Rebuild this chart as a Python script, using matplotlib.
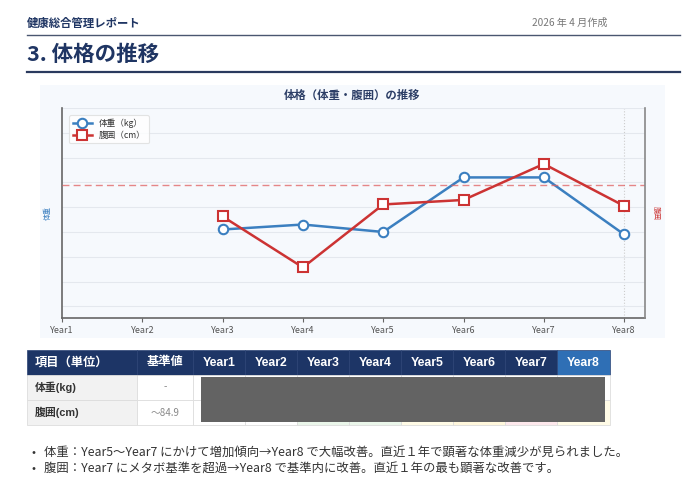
import numpy as np
import matplotlib
matplotlib.use("Agg")
import matplotlib.pyplot as plt
from matplotlib.patches import Rectangle
from matplotlib.lines import Line2D

plt.rcParams['font.family'] = ['Noto Sans CJK JP', 'DejaVu Sans']

# ---------------- data ----------------
years = ["Year1", "Year2", "Year3", "Year4", "Year5", "Year6", "Year7", "Year8"]
weight = [np.nan, np.nan, 66.1, 66.3, 66.0, 68.2, 68.2, 65.9]
waist = [np.nan, np.nan, 82.9, 79.5, 83.7, 84.0, 86.4, 83.6]
waist_threshold = 85
table_cols = ["項目（単位）", "基準値"] + years
row_labels = ["体重(kg)", "腹囲(cm)"]
row_base = ["-", "〜84.9"]
bullets = [
    "体重：Year5〜Year7 にかけて増加傾向→Year8 で大幅改善。直近１年で顕著な体重減少が見られました。",
    "腹囲：Year7 にメタボ基準を超過→Year8 で基準内に改善。直近１年の最も顕著な改善です。",
]

W, H = 700, 479
fig = plt.figure(figsize=(W / 100, H / 100), dpi=100)
fig.patch.set_facecolor("white")


def fx(x):
    return x / W


def fy(y):
    return 1 - y / H


NAVY = "#1f3563"

# ---------------- header ----------------
fig.text(fx(27), fy(23), "健康総合管理レポート", fontsize=8.2, fontweight="bold",
         color=NAVY, va="center", ha="left")
fig.text(fx(608), fy(23), "2026 年 4 月作成", fontsize=7.3, color="#777777",
         va="center", ha="right")
fig.add_artist(Line2D([fx(27), fx(680)], [fy(35), fy(35)], color="#4a5670", lw=1.0))
fig.text(fx(27), fy(54), "3. 体格の推移", fontsize=15.5, fontweight="bold",
         color=NAVY, va="center", ha="left")
fig.add_artist(Line2D([fx(27), fx(680)], [fy(72), fy(72)], color="#2a3a5e", lw=1.6))

# ---------------- chart panel ----------------
fig.add_artist(Rectangle((fx(40), fy(338)), fx(625), (338 - 85) / H,
                         facecolor="#f6f9fd", edgecolor="none", zorder=0))
fig.text(fx(352), fy(95), "体格（体重・腹囲）の推移", fontsize=8.2, fontweight="bold",
         color="#2c3e66", va="center", ha="center")

ax = fig.add_axes([fx(62), fy(318), (645 - 62) / W, (318 - 108) / H])
ax.patch.set_alpha(0)
x = np.arange(len(years))
ax.set_xlim(0, 7.26)
ax.set_ylim(62.53, 71)
ax.set_yticks(np.arange(63, 72, 1))
ax.yaxis.grid(True, color="#e4e8ee", lw=0.8)
ax.set_xticks(x)
ax.set_xticklabels(years, fontsize=6.5, color="#555555")
ax.tick_params(axis="x", length=3, width=0.8, color="#666666", pad=3)
for s in ["top", "right"]:
    ax.spines[s].set_visible(False)
for s in ["left", "bottom"]:
    ax.spines[s].set_color("#666666")
    ax.spines[s].set_linewidth(1.2)
ax.axvline(7, color="#cccccc", lw=0.8, ls=":", zorder=1)

blue = "#3b7fc0"
red = "#cc3333"
l1, = ax.plot(x, weight, color=blue, lw=1.8, marker="o", ms=6.8, mfc="white",
              mec=blue, mew=1.5, zorder=3, label="体重（kg）")

ax2 = ax.twinx()
ax2.set_ylim(76.13, 90.13)
ax2.tick_params(axis="y", right=False, labelright=False, left=False, labelleft=False)
ax.tick_params(axis="y", left=False, labelleft=False, right=False, labelright=False)
for s in ["top", "left", "bottom"]:
    ax2.spines[s].set_visible(False)
ax2.spines["right"].set_color("#888888")
ax2.spines["right"].set_linewidth(1.2)
ax2.axhline(waist_threshold, color="#e06060", lw=1.0, ls=(0, (5, 3)), alpha=0.75, zorder=2)
l2, = ax2.plot(x, waist, color=red, lw=1.8, marker="s", ms=6.8, mfc="white",
               mec=red, mew=1.5, zorder=3, label="腹囲（cm）")

leg = ax2.legend(handles=[l1, l2], loc="upper left", fontsize=6.2, frameon=True,
                 bbox_to_anchor=(0.005, 0.985), borderpad=0.4, handlelength=2.2,
                 labelspacing=0.3, fancybox=True)
leg.get_frame().set_edgecolor("#dddddd")
leg.get_frame().set_linewidth(0.8)
for t in leg.get_texts():
    t.set_color("#333333")

fig.text(fx(48), fy(213), "体重", fontsize=5, color=blue, rotation=90,
         va="center", ha="center")
fig.text(fx(656), fy(213), "腹囲", fontsize=5, color=red, rotation=270,
         va="center", ha="center")

# ---------------- table ----------------
col_edges = [27, 137, 193, 245, 297, 349, 401, 453, 505, 557, 610]
row_edges = [350, 375, 400, 425]
tint = [None, None, None, None, "#eaf6ea", "#eaf6ea", "#fffbe6", "#fff7dc", "#fde8ec", "#fffbe6"]
for i, name in enumerate(table_cols):
    x0, x1 = col_edges[i], col_edges[i + 1]
    fc = "#2f6fb5" if name == "Year8" else "#1d3566"
    fig.add_artist(Rectangle((fx(x0), fy(row_edges[1])), (x1 - x0) / W,
                             (row_edges[1] - row_edges[0]) / H, facecolor=fc,
                             edgecolor="#2a4274", lw=0.5))
    fig.text(fx((x0 + x1) / 2 if i > 0 else x0 + 8), fy(362.5), name,
             fontsize=8.8, fontweight="bold", color="white", va="center",
             ha="center" if i > 0 else "left",
             family=["Liberation Sans", "Noto Sans CJK JP"])
    for r in range(2):
        y0, y1 = row_edges[r + 1], row_edges[r + 2]
        if i == 0:
            c = "#f2f2f2"
        elif r == 1 and tint[i]:
            c = tint[i]
        else:
            c = "white"
        fig.add_artist(Rectangle((fx(x0), fy(y1)), (x1 - x0) / W, (y1 - y0) / H,
                                 facecolor=c, edgecolor="#dddddd", lw=0.6))
for r in range(2):
    yc = (row_edges[r + 1] + row_edges[r + 2]) / 2
    fig.text(fx(35), fy(yc), row_labels[r], fontsize=7.8, fontweight="bold",
             color="#333333", va="center", ha="left",
             family=["Liberation Sans", "Noto Sans CJK JP"])
    fig.text(fx(165), fy(yc), row_base[r], fontsize=7, color="#888888",
             va="center", ha="center")
# redaction box
fig.add_artist(Rectangle((fx(200.5), fy(422)), (605 - 200.5) / W, (422 - 377) / H,
                         facecolor="#636363", edgecolor="none", zorder=5))

# ---------------- bullets ----------------
for k, b in enumerate(bullets):
    yy = 452 + 17 * k
    fig.text(fx(34), fy(yy), "•", fontsize=8.5, color="#333333", va="center", ha="center")
    fig.text(fx(44), fy(yy), b, fontsize=8.9, color="#333333", va="center", ha="left")

fig.savefig("out.png", dpi=100)
